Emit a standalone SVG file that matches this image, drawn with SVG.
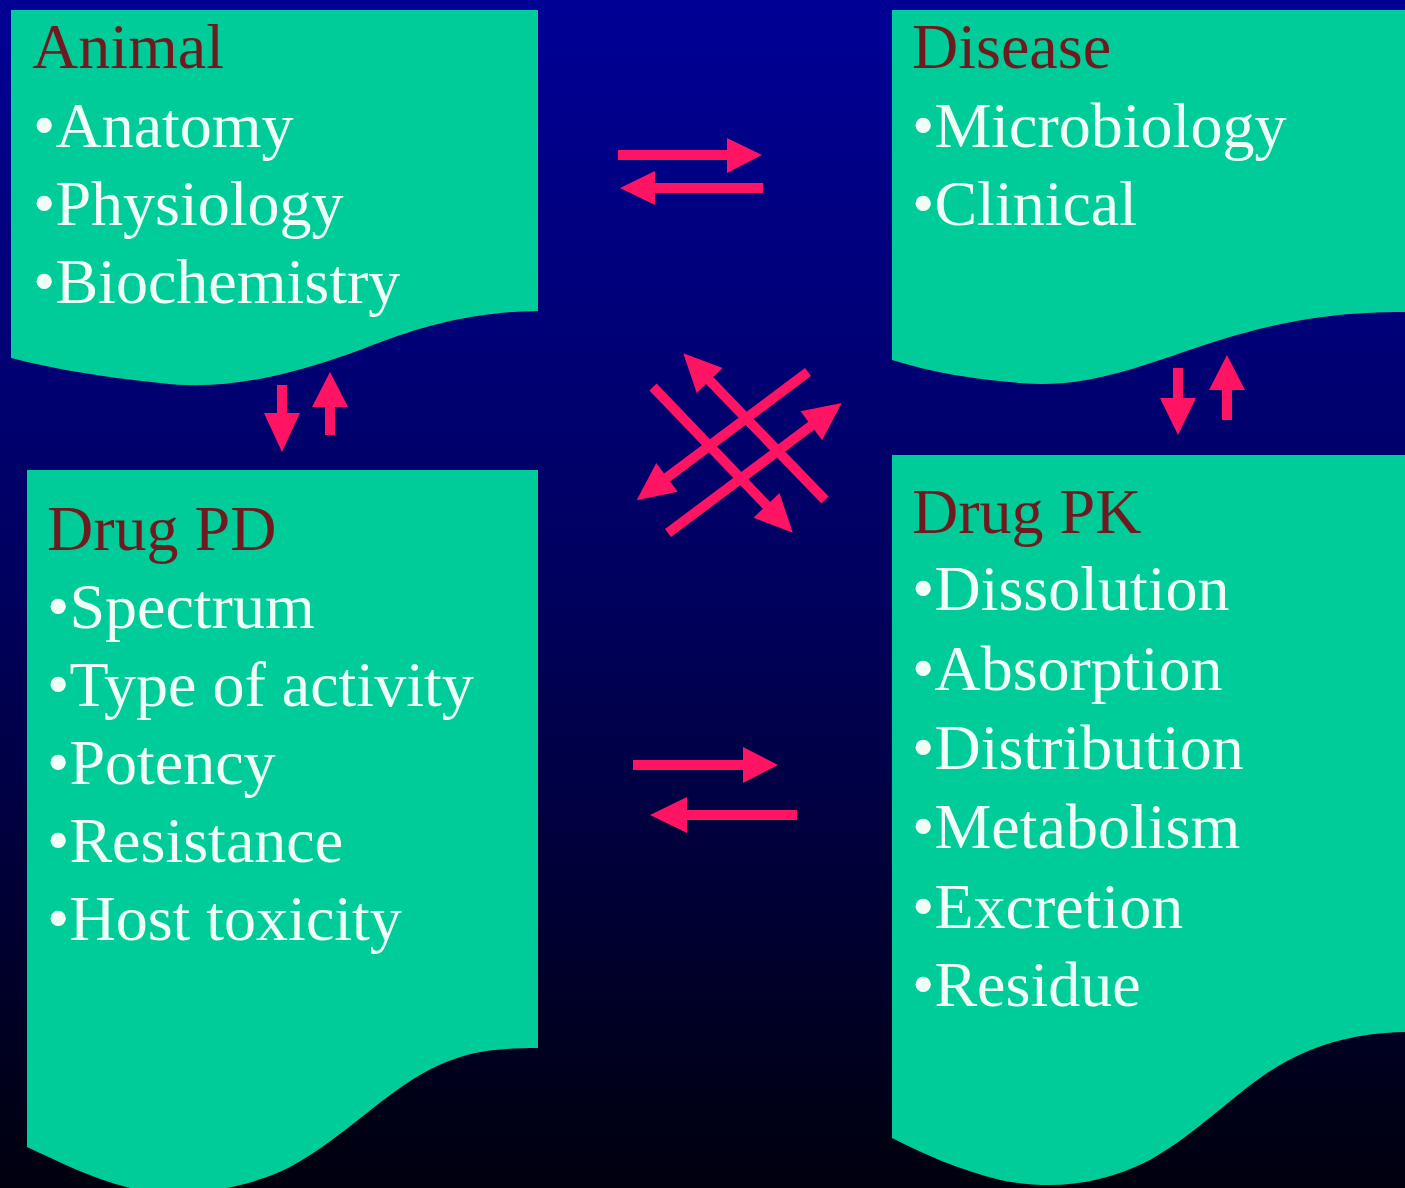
<svg xmlns="http://www.w3.org/2000/svg" width="1405" height="1188" viewBox="0 0 1405 1188">
<defs>
<linearGradient id="bg" x1="0" y1="0" x2="0" y2="1">
<stop offset="0" stop-color="#000096"/>
<stop offset="0.5" stop-color="#00005e"/>
<stop offset="1" stop-color="#00000e"/>
</linearGradient>
<style>
.box{fill:#00cc99;}
.title{font-family:"Liberation Serif","Times New Roman",serif;font-size:64px;fill:#6e1a1e;}
.item{font-family:"Liberation Serif","Times New Roman",serif;font-size:64px;fill:#f0fff6;}
.arr{fill:#ff1464;}
</style>
</defs>
<rect x="0" y="0" width="1405" height="1188" fill="url(#bg)"/>

<g id="animal">
<path class="box" d="M11,10 H538 V311 C470,312 420,326 360,350 C300,372 230,392 160,383 C100,377 50,368 11,358 Z"/>
<text class="title" x="32" y="68">Animal</text>
<text class="item" x="33" y="147">•Anatomy</text>
<text class="item" x="33" y="225">•Physiology</text>
<text class="item" x="33" y="303">•Biochemistry</text>
</g>

<g id="disease">
<path class="box" d="M892,10 H1405 V312 C1330,312 1280,322 1220,340 C1150,362 1090,390 1020,383 C960,378 925,370 892,360 Z"/>
<text class="title" x="912" y="68">Disease</text>
<text class="item" x="912" y="147">•Microbiology</text>
<text class="item" x="912" y="225">•Clinical</text>
</g>

<g id="drug-pd">
<path class="box" d="M27,470 H538 V1048 C490,1048 460,1052 420,1075 C380,1098 340,1140 290,1167 C240,1192 180,1198 130,1188 C90,1178 60,1162 27,1147 Z"/>
<text class="title" x="47" y="550">Drug PD</text>
<text class="item" x="47" y="628">•Spectrum</text>
<text class="item" x="47" y="706">•Type of activity</text>
<text class="item" x="47" y="784">•Potency</text>
<text class="item" x="47" y="862">•Resistance</text>
<text class="item" x="47" y="940">•Host toxicity</text>
</g>

<g id="drug-pk">
<path class="box" d="M892,455 H1405 V1032 C1360,1033 1320,1042 1280,1065 C1240,1088 1200,1132 1150,1160 C1100,1186 1050,1190 1000,1180 C960,1170 925,1155 892,1138 Z"/>
<text class="title" x="912" y="533">Drug PK</text>
<text class="item" x="912" y="610">•Dissolution</text>
<text class="item" x="912" y="690">•Absorption</text>
<text class="item" x="912" y="769">•Distribution</text>
<text class="item" x="912" y="848">•Metabolism</text>
<text class="item" x="912" y="928">•Excretion</text>
<text class="item" x="912" y="1006">•Residue</text>
</g>

<g id="connectors">
<polygon class="arr" points="618,150 727,150 727,138 762,155 727,173 727,160 618,160"/>
<polygon class="arr" points="763,183 655,183 655,171 620,188 655,205 655,193 763,193"/>
<polygon class="arr" points="633,760 743,760 743,747 778,765 743,783 743,770 633,770"/>
<polygon class="arr" points="797,810 687,810 687,797 650,815 687,833 687,820 797,820"/>
<polygon class="arr" points="277,385 287,385 287,413 300,413 282,452 264,413 277,413"/>
<polygon class="arr" points="325,435 335,435 335,407 348,407 330,372 312,407 325,407"/>
<polygon class="arr" points="1173,368 1183,368 1183,398 1196,398 1178,435 1160,398 1173,398"/>
<polygon class="arr" points="1222,420 1232,420 1232,390 1245,390 1227,355 1209,390 1222,390"/>
<polygon class="arr" transform="translate(653,387) rotate(46.2)" points="0,-5 164,-5 164,-18 202,0 164,18 164,5 0,5"/>
<polygon class="arr" transform="translate(825,500) rotate(226)" points="0,-5 166,-5 166,-18 204,0 166,18 166,5 0,5"/>
<polygon class="arr" transform="translate(808,372) rotate(143.2)" points="0,-5 176,-5 176,-18 214,0 176,18 176,5 0,5"/>
<polygon class="arr" transform="translate(668,533) rotate(-36.8)" points="0,-5 179,-5 179,-18 217,0 179,18 179,5 0,5"/>
</g>
</svg>
